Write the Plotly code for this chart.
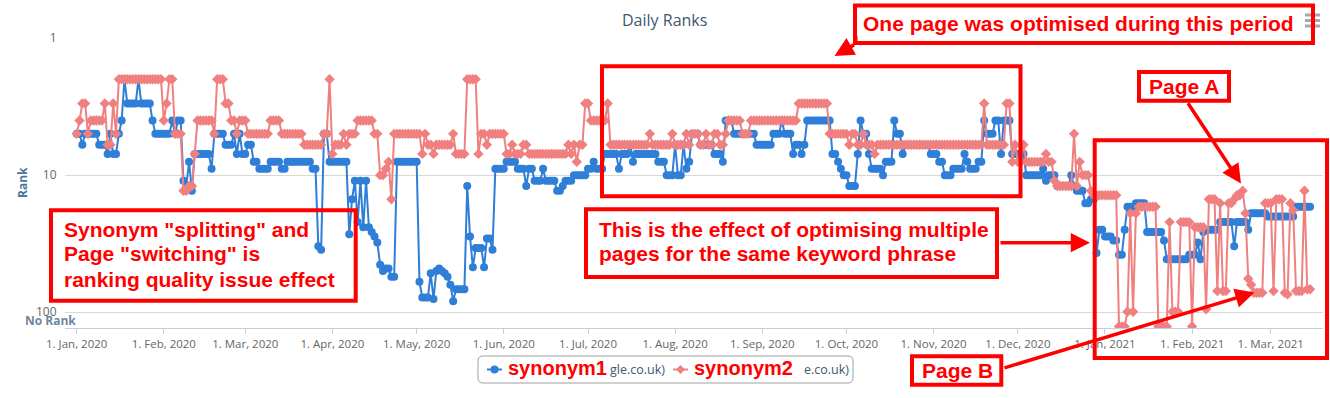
import pandas as pd
import plotly.graph_objects as go

# ---------------- data (daily ranks) ----------------
START_DATE = "2020-01-01"
N_DAYS = 440
NO_RANK = 127  # plotting position of "No Rank"

# change points: day index (from 1 Jan 2020) where a new rank starts
SYN1_DAYS = [0, 2, 3, 8, 11, 12, 13, 15, 16, 17, 18, 22, 23, 27, 28, 34, 35, 36, 38, 39,
             40, 41, 42, 48, 49, 53, 56, 57, 58, 59, 61, 63, 65, 69, 73, 75, 84, 86, 87, 88,
             90, 97, 98, 99, 100, 101, 102, 103, 104, 105, 106, 107, 108, 109, 110, 112, 114, 122, 123, 126,
             127, 128, 129, 130, 131, 132, 133, 134, 135, 139, 140, 141, 142, 145, 146, 148, 149, 153, 157, 160,
             161, 163, 166, 167, 171, 173, 174, 177, 182, 184, 185, 188, 193, 194, 197, 198, 199, 207, 210, 213,
             214, 216, 217, 218, 219, 222, 227, 230, 231, 234, 242, 248, 251, 252, 255, 256, 258, 259, 260, 269,
             271, 272, 273, 275, 278, 279, 280, 282, 283, 287, 288, 291, 292, 294, 295, 304, 307, 309, 312, 316,
             317, 318, 321, 323, 324, 327, 329, 330, 333, 338, 344, 345, 346, 349, 354, 355, 356, 359, 361, 363,
             364, 366, 369, 371, 373, 374, 377, 381, 387, 388, 396, 399, 400, 401, 402, 407, 412, 413, 417, 418,
             424, 434]
SYN1_RANKS = [5, 6, 5, 6, 7, 5, 7, 5, 4, 2, 3, 2, 3, 4, 5, 4, 5, 4, 11, 12,
              8, 13, 7, 9, 5, 6, 5, 7, 5, 7, 6, 8, 9, 8, 9, 8, 9, 33, 35, 5,
              8, 27, 15, 11, 22, 11, 24, 11, 24, 26, 28, 31, 45, 50, 48, 55, 8, 60, 78, 52,
              80, 50, 48, 50, 52, 55, 63, 83, 68, 12, 28, 47, 34, 47, 29, 35, 9, 8, 9, 12,
              9, 11, 9, 11, 13, 12, 11, 10, 9, 8, 9, 7, 9, 7, 6, 8, 7, 8, 10, 6,
              10, 6, 9, 8, 5, 6, 7, 8, 4, 5, 6, 5, 4, 5, 7, 6, 7, 6, 4, 7,
              8, 9, 10, 12, 7, 4, 5, 7, 9, 10, 8, 4, 5, 7, 6, 7, 8, 10, 9, 7,
              8, 9, 8, 4, 5, 4, 7, 4, 7, 10, 9, 11, 10, 12, 10, 12, 13, 16, 15, 37,
              25, 28, 30, 38, 25, 17, 16, 26, 30, 41, 38, 31, 41, 26, 25, 22, 33, 22, 25, 19,
              20, 17]

SYN2_DAYS = [0, 1, 2, 4, 5, 10, 11, 13, 14, 15, 31, 32, 33, 35, 38, 40, 42, 43, 49, 50,
             53, 55, 57, 58, 61, 69, 73, 81, 88, 90, 91, 92, 95, 96, 97, 100, 106, 108, 110, 111,
             112, 113, 123, 124, 125, 127, 128, 134, 135, 139, 143, 144, 146, 147, 153, 155, 156, 159, 161, 175,
             176, 177, 178, 179, 181, 183, 189, 190, 204, 205, 212, 213, 217, 218, 219, 222, 224, 225, 227, 229,
             231, 232, 237, 240, 257, 268, 275, 276, 278, 280, 281, 284, 285, 323, 324, 331, 333, 334, 335, 337,
             338, 345, 346, 348, 349, 355, 356, 357, 358, 361, 362, 371, 374, 375, 376, 377, 378, 385, 389, 390,
             393, 397, 398, 402, 403, 406, 407, 408, 410, 412, 413, 415, 416, 417, 418, 419, 423, 426, 427, 430,
             431, 432, 433, 434, 437, 438]
SYN2_RANKS = [5, 4, 3, 5, 4, 3, 6, 3, 5, 2, 4, 3, 2, 5, 13, 12, 7, 4, 5, 2,
              3, 4, 5, 4, 5, 4, 5, 6, 5, 2, 7, 6, 5, 6, 5, 4, 5, 10, 9, 8,
              15, 5, 7, 5, 6, 7, 6, 5, 7, 2, 7, 5, 6, 5, 7, 6, 7, 6, 7, 6,
              7, 6, 8, 6, 3, 4, 3, 6, 5, 6, 5, 6, 5, 6, 5, 6, 5, 6, 5, 6,
              5, 4, 5, 4, 3, 5, 6, 5, 6, 5, 6, 7, 6, 3, 6, 3, 8, 6, 8, 6,
              8, 7, 8, 11, 12, 5, 12, 8, 10, 13, 14, "NR", 99, 19, 99, 19, 17, "NR", 22, 99,
              22, "NR", 24, 95, 15, 70, 16, 70, 16, 15, 14, 13, 19, 57, 63, 72, 16, 70, 15, 72,
              74, 16, 18, 70, 13, 68]

MONTH_TICKS = pd.date_range("2020-01-01", "2021-03-01", freq="MS")
MONTH_LABELS = [f"1. {d.strftime('%b')}, {d.year}" for d in MONTH_TICKS]
Y_TICKS = [1, 10, 100]
Y_LABELS = ["1", "10", "100"]


def expand(days, ranks, n):
    out = []
    for i, d0 in enumerate(days):
        d1 = days[i + 1] if i + 1 < len(days) else n
        v = NO_RANK if ranks[i] == "NR" else ranks[i]
        out += [v] * (d1 - d0)
    return out


dates = pd.date_range(START_DATE, periods=N_DAYS, freq="D")
syn1 = expand(SYN1_DAYS, SYN1_RANKS, N_DAYS)
syn2 = expand(SYN2_DAYS, SYN2_RANKS, N_DAYS)

BLUE = "#2f7ed8"
SALMON = "#f08080"
RED = "#ff0000"

fig = go.Figure()
fig.add_trace(go.Scatter(x=dates, y=syn1, mode="lines+markers", name="synonym1",
                         line=dict(color=BLUE, width=2),
                         marker=dict(symbol="circle", size=8, color=BLUE),
                         showlegend=False))
fig.add_trace(go.Scatter(x=dates, y=syn2, mode="lines+markers", name="synonym2",
                         line=dict(color=SALMON, width=2),
                         marker=dict(symbol="diamond", size=8, color=SALMON),
                         showlegend=False))

# ---------------- layout helpers (pixel -> paper) ----------------
L, R, T, B = 65, 1323, 38, 328


def PX(x):
    return (x - L) / (R - L)


def PY(y):
    return (B - y) / (B - T)


shapes = []
annotations = []


def rect(x0, y0, x1, y1, color=RED, w=4):
    shapes.append(dict(type="rect", xref="paper", yref="paper",
                       x0=PX(x0), x1=PX(x1), y0=PY(y0), y1=PY(y1),
                       line=dict(color=color, width=w), layer="above"))


def seg(x0, y0, x1, y1, color=RED, w=4):
    shapes.append(dict(type="line", xref="paper", yref="paper",
                       x0=PX(x0), x1=PX(x1), y0=PY(y0), y1=PY(y1),
                       line=dict(color=color, width=w), layer="above"))


def text(x, y, s, size=21, color=RED, xanchor="left", bold=True,
         family="Liberation Sans, Arial, sans-serif", angle=0):
    annotations.append(dict(xref="paper", yref="paper", x=PX(x), y=PY(y),
                            text=f"<b>{s}</b>" if bold else s, showarrow=False,
                            xanchor=xanchor, yanchor="middle", textangle=angle,
                            font=dict(size=size, color=color, family=family)))


def arrow(tx, ty, hx, hy):
    annotations.append(dict(xref="paper", yref="paper", x=PX(hx), y=PY(hy),
                            axref="pixel", ayref="pixel", ax=tx - hx, ay=ty - hy,
                            text="", showarrow=True, arrowhead=2, arrowsize=1.1,
                            arrowwidth=3.5, arrowcolor=RED, standoff=0))


CHART_FONT = "Open Sans, DejaVu Sans, sans-serif"

# title and axis labels
text(664, 20, "Daily Ranks", size=16, color="#3e576f", xanchor="center", bold=False, family=CHART_FONT)
text(22, 183, "Rank", size=12, color="#4d759e", xanchor="center", family=CHART_FONT, angle=-90)
text(50, 320, "No Rank", size=12, color="#6d86a0", xanchor="center", family=CHART_FONT)

# export menu icon
for yy in (15, 20.5, 26):
    seg(1305, yy, 1320, yy, color="#a8a8a8", w=3)

# annotation boxes
rect(855, 5.5, 1313, 43)
text(861, 23, "One page was optimised during this period")
seg(855.5, 36, 855.5, 44)
arrow(855.5, 44, 834.5, 56)

rect(602, 66.3, 1020.5, 196.3)

rect(51, 210.3, 355.7, 300.7)
text(62, 229, "Synonym \"splitting\" and")
text(62, 254, "Page \"switching\" is")
text(62, 279, "ranking quality issue effect")

rect(586, 209.3, 997, 277)
text(597, 229, "This is the effect of optimising multiple")
text(597, 254, "pages for the same keyword phrase")
arrow(999, 242.7, 1090, 242.7)

rect(1094.7, 140.3, 1327, 358)

rect(1139, 72, 1229, 100.7)
text(1184, 86, "Page A", xanchor="center")
arrow(1187, 101.7, 1241, 183.5)

rect(912, 356.3, 1001.3, 384.7)
text(957, 370, "Page B", xanchor="center")
arrow(1003, 368.3, 1254.5, 292.5)

# manual legend
lx0, ly0, lx1, ly1, rr = 478, 356, 853, 383, 5
shapes.append(dict(type="path", xref="paper", yref="paper", layer="above",
                   path=(f"M {PX(lx0 + rr)},{PY(ly0)} L {PX(lx1 - rr)},{PY(ly0)} "
                         f"Q {PX(lx1)},{PY(ly0)} {PX(lx1)},{PY(ly0 + rr)} "
                         f"L {PX(lx1)},{PY(ly1 - rr)} Q {PX(lx1)},{PY(ly1)} {PX(lx1 - rr)},{PY(ly1)} "
                         f"L {PX(lx0 + rr)},{PY(ly1)} Q {PX(lx0)},{PY(ly1)} {PX(lx0)},{PY(ly1 - rr)} "
                         f"L {PX(lx0)},{PY(ly0 + rr)} Q {PX(lx0)},{PY(ly0)} {PX(lx0 + rr)},{PY(ly0)} Z"),
                   line=dict(color="#a0a0a0", width=1), fillcolor="rgba(0,0,0,0)"))
seg(487, 369.5, 502, 369.5, color=BLUE, w=2)
shapes.append(dict(type="circle", xref="paper", yref="paper", layer="above",
                   x0=PX(490.5), x1=PX(498.5), y0=PY(365.5), y1=PY(373.5),
                   fillcolor=BLUE, line=dict(color=BLUE, width=0)))
seg(673, 369.5, 688, 369.5, color=SALMON, w=2)
cx, cy = 680.5, 369.5
shapes.append(dict(type="path", xref="paper", yref="paper", layer="above",
                   path=(f"M {PX(cx)},{PY(cy - 4.5)} L {PX(cx + 4.5)},{PY(cy)} "
                         f"L {PX(cx)},{PY(cy + 4.5)} L {PX(cx - 4.5)},{PY(cy)} Z"),
                   fillcolor=SALMON, line=dict(color=SALMON, width=0)))
text(608, 369.5, "gle.co.uk)", size=12.5, color="#3e576f", bold=False, family=CHART_FONT)
text(802, 369.5, "e.co.uk)", size=12.5, color="#3e576f", bold=False, family=CHART_FONT)
text(506, 368, "synonym1", size=20)
text(692, 368, "synonym2", size=20)

fig.update_layout(
    width=1330, height=398,
    margin=dict(l=L, r=1330 - R, t=T, b=398 - B, pad=0),
    paper_bgcolor="white", plot_bgcolor="white",
    showlegend=False,
    font=dict(family=CHART_FONT, color="#666666"),
    xaxis=dict(type="date", range=["2019-12-27 20:00", "2021-03-19 14:30"],
               tickvals=MONTH_TICKS, ticktext=MONTH_LABELS,
               ticks="outside", ticklen=5, tickcolor="#c0d0e0",
               showline=True, linecolor="#c0d0e0", linewidth=1,
               showgrid=False, zeroline=False, automargin=False,
               tickfont=dict(size=11.5, color="#666666", family=CHART_FONT)),
    yaxis=dict(type="log", range=[2.1146, 0],
               tickvals=Y_TICKS, ticktext=Y_LABELS,
               ticks="outside", ticklen=5, tickcolor="rgba(0,0,0,0)",
               showgrid=True, gridcolor="#d8d8d8", gridwidth=1,
               showline=False, zeroline=False, automargin=False,
               tickfont=dict(size=12, color="#666666", family=CHART_FONT)),
    shapes=shapes,
    annotations=annotations,
)

fig.write_html("out.html", config={"displayModeBar": False},
               post_script="document.body.style.margin='0';document.body.style.padding='0';")
